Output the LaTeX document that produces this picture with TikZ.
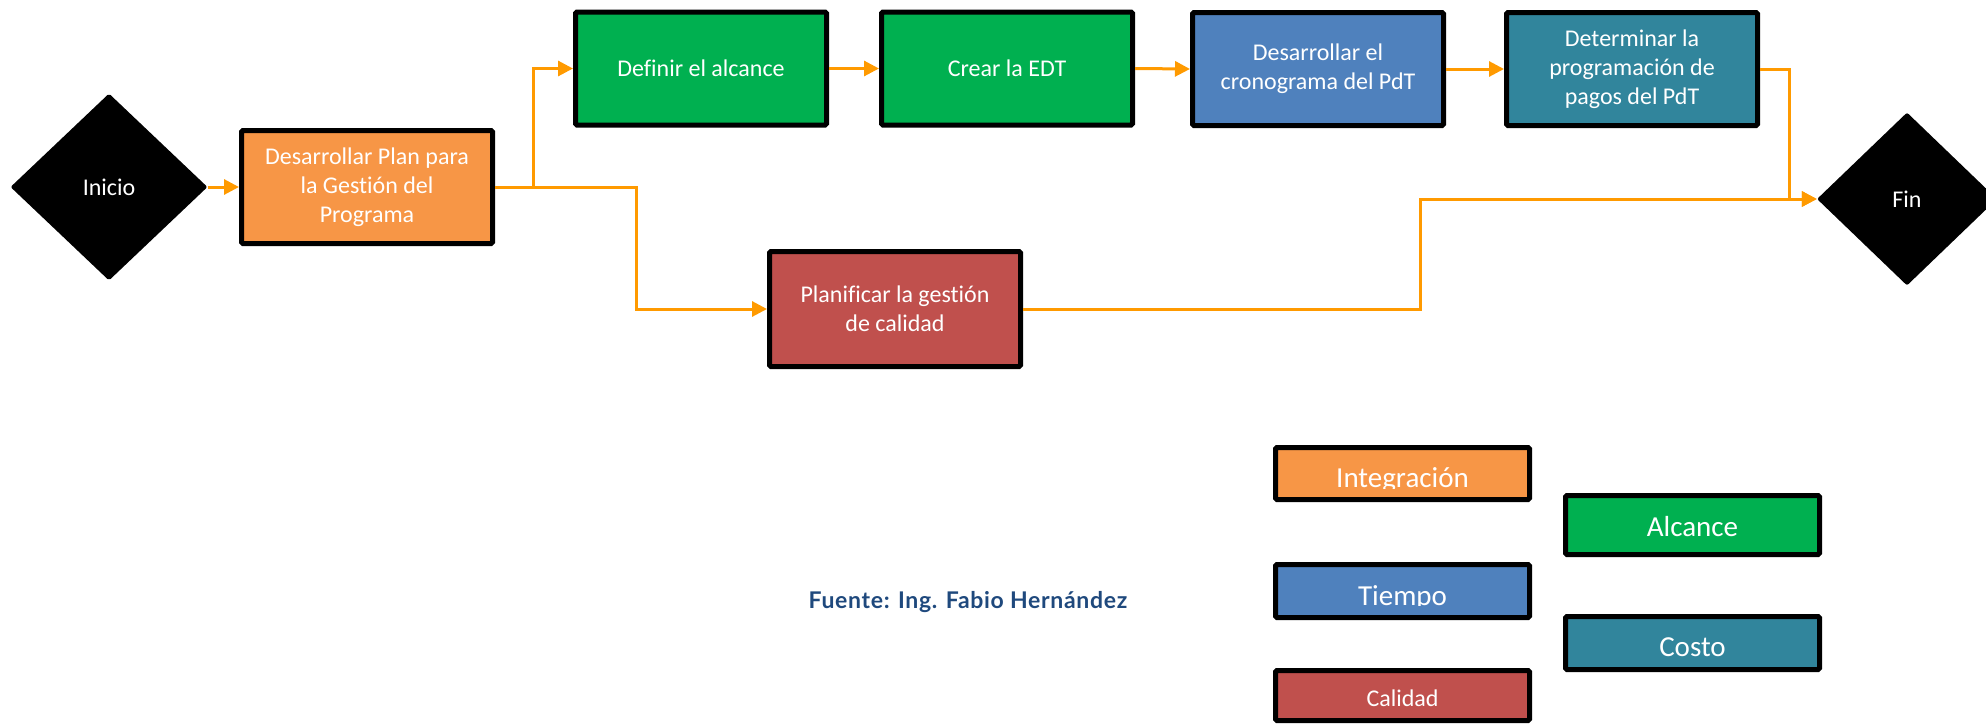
\documentclass[tikz,border=0pt]{standalone}
\usepackage{fontspec}
\setmainfont{Carlito}[Ligatures=NoCommon]
\newfontfamily\srcfont{Lato}[LetterSpace=3]
\usetikzlibrary{shapes.geometric,arrows.meta}

\definecolor{integr}{RGB}{247,150,70}
\definecolor{alcan}{RGB}{0,176,80}
\definecolor{tiemp}{RGB}{79,129,189}
\definecolor{costc}{RGB}{49,133,156}
\definecolor{calid}{RGB}{192,80,77}
\definecolor{flowc}{RGB}{255,154,0}
\definecolor{srcblue}{RGB}{31,73,125}

\begin{document}
\begin{tikzpicture}[x=1pt,y=-1pt,
  every node/.style={font=\fontsize{24}{29}\selectfont, text=white},
  task/.style={draw=black, line width=5pt, rounded corners=1.5pt,
    minimum width=251pt, minimum height=113pt, align=center, inner sep=2pt},
  term/.style={diamond, fill=black, inner sep=0pt, rounded corners=2pt},
  flow/.style={draw=flowc, line width=3pt, -{Triangle[length=15pt,width=15pt]}},
  legbox/.style={draw=black, line width=5pt, rounded corners=1.5pt,
    minimum width=254pt, inner sep=0pt},
  legtext/.style={font=\fontsize{29}{34}\selectfont, text=white, inner sep=0pt, anchor=base},
]
\useasboundingbox (0,0) rectangle (1986,723);

% process nodes
\node[term, minimum width=197pt, minimum height=187pt] (inicio) at (109,187) {Inicio};
\node[task, fill=integr] (plan) at (367,187) {Desarrollar Plan para\\la Gestión del\\Programa};
\node[task, fill=alcan] (alc) at (701,68.5) {Definir el alcance};
\node[task, fill=alcan] (edt) at (1007,68.5) {Crear la EDT};
\node[task, fill=tiemp] (crono) at (1318,69) {Desarrollar el\\cronograma del PdT};
\node[task, fill=costc] (pagos) at (1632,69) {Determinar la\\programación de\\pagos del PdT};
\node[task, fill=calid, minimum height=115pt] (cal) at (895,309) {Planificar la gestión\\de calidad};
\node[term, minimum width=180pt, minimum height=173pt] (fin) at (1907,199) {Fin};

% connectors
\draw[flow] (inicio.east) -- (plan.west);
\draw[flow] (plan.east) -- ++(38,0) |- (alc.west);
\draw[flow] (plan.east) -- ++(141,0) |- (cal.west);
\draw[flow] (alc.east) -- (edt.west);
\draw[flow] (edt.east) -- (crono.west);
\draw[flow] (crono.east) -- (pagos.west);
\draw[flow] (pagos.east) -- ++(29,0) |- (fin.west);
\draw[flow] (cal.east) -- ++(397,0) |- (fin.west);

% legend
\node[legbox, fill=integr, minimum height=52pt] (lgI) at (1402.5,473.5) {};
\begin{scope}
  \clip (1276,448) rectangle (1529,488);
  \node[legtext] (lgIt) at (1402.5,487) {Integración};
\end{scope}
\node[legbox, fill=alcan, minimum height=59pt] (lgA) at (1692.5,525) {};
\node[legtext] (lgAt) at (1692.5,536) {Alcance};
\node[legbox, fill=tiemp, minimum height=53pt] (lgT) at (1402.5,591) {};
\begin{scope}
  \clip (1276,565) rectangle (1529,605.5);
  \node[legtext] (lgTt) at (1402.5,605) {Tiempo};
\end{scope}
\node[legbox, fill=costc, minimum height=53pt] (lgC) at (1692.5,643) {};
\node[legtext] (lgCt) at (1692.5,656) {Costo};
\node[legbox, fill=calid, minimum height=50pt] (lgQ) at (1402.5,695.5) {};
\node[legtext, font=\fontsize{24}{29}\selectfont] (lgQt) at (1402.5,706) {Calidad};

% source note
\node[anchor=base, text=srcblue, font=\srcfont\bfseries\fontsize{23}{27}\selectfont] (src) at (968,608) {Fuente: Ing. Fabio Hernández};
\end{tikzpicture}
\end{document}
